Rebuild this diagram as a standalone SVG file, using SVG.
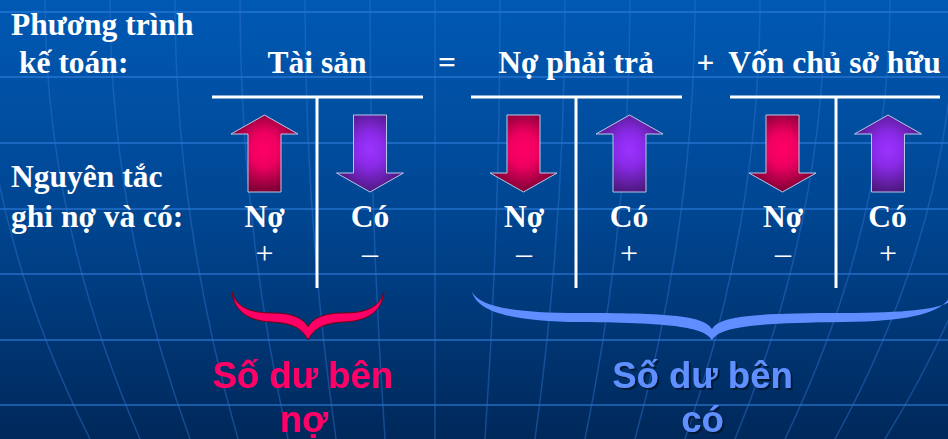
<svg xmlns="http://www.w3.org/2000/svg" xmlns:xlink="http://www.w3.org/1999/xlink" width="948" height="439" viewBox="0 0 948 439">
  <defs>
    <linearGradient id="bg" x1="0" y1="0" x2="0" y2="1">
      <stop offset="0" stop-color="#0059b4"/>
      <stop offset="0.5" stop-color="#004590"/>
      <stop offset="1" stop-color="#00285a"/>
    </linearGradient>
    <radialGradient id="redG" cx="0.5" cy="0.45" r="0.62">
      <stop offset="0" stop-color="#ff0066"/>
      <stop offset="0.35" stop-color="#ee0060"/>
      <stop offset="1" stop-color="#66002a"/>
    </radialGradient>
    <radialGradient id="purG" cx="0.5" cy="0.45" r="0.62">
      <stop offset="0" stop-color="#9c33ff"/>
      <stop offset="0.35" stop-color="#8a2ae8"/>
      <stop offset="1" stop-color="#42156a"/>
    </radialGradient>
    <linearGradient id="vfade" x1="0" y1="0" x2="0" y2="1">
      <stop offset="0" stop-color="#2f74d0" stop-opacity="0.15"/>
      <stop offset="0.5" stop-color="#2f74d0" stop-opacity="0.35"/>
      <stop offset="1" stop-color="#2f74d0" stop-opacity="0.55"/>
    </linearGradient>
    <path id="up" d="M0,115 L33.5,134 L16.5,134 L16.5,192 L-16.5,192 L-16.5,134 L-33.5,134 Z"/>
    <path id="down" d="M-16.5,115 L16.5,115 L16.5,173 L33.5,173 L0,192 L-33.5,173 L-16.5,173 Z"/>
    <filter id="shadow" x="-10%" y="-10%" width="130%" height="140%">
      <feDropShadow dx="2" dy="2" stdDeviation="0.6" flood-color="#001530" flood-opacity="0.9"/>
    </filter>
  </defs>
  <style>
    .t { font-family: "Liberation Serif", "Times New Roman", serif; font-weight: bold; font-size: 31.5px; fill: #ffffff; }
    .sign { font-family: "Liberation Serif", "Times New Roman", serif; font-weight: normal; font-size: 32px; fill: #ffffff; text-anchor: middle; }
    .mid { text-anchor: middle; }
    .rule { stroke: #ffffff; stroke-width: 3; fill: none; }
    .arrow { stroke: #b8c8e8; stroke-width: 1; }
    .hgrid { stroke: #2f7fe0; stroke-opacity: 0.55; stroke-width: 2; fill: none; }
    .vgrid { stroke: #2f74d0; stroke-opacity: 0.45; stroke-width: 1.5; fill: none; }
    .big { font-family: "Liberation Sans", Arial, sans-serif; font-weight: bold; font-size: 36.5px; text-anchor: middle; }
  </style>

  <!-- background -->
  <g id="background">
    <rect x="0" y="0" width="948" height="439" fill="url(#bg)"/>
    <g class="hgrid">
      <line x1="0" y1="12" x2="948" y2="12"/>
      <line x1="0" y1="77" x2="948" y2="77"/>
      <line x1="0" y1="143" x2="948" y2="143"/>
      <line x1="0" y1="209" x2="948" y2="209"/>
      <line x1="0" y1="274" x2="948" y2="274"/>
      <line x1="0" y1="340" x2="948" y2="340"/>
      <line x1="0" y1="405" x2="948" y2="405"/>
    </g>
    <g class="vgrid">
      <path d="M-20,0 Q-20,220 90,439"/>
      <path d="M45,0 Q45,220 140,439"/>
      <path d="M110,0 Q110,220 190,439"/>
      <path d="M175,0 Q175,220 238,439"/>
      <path d="M240,0 Q240,220 288,439"/>
      <path d="M305,0 Q305,220 336,439"/>
      <path d="M370,0 Q370,220 385,439"/>
      <path d="M435,0 Q435,220 435,439"/>
      <path d="M500,0 Q500,220 485,439"/>
      <path d="M565,0 Q565,220 535,439"/>
      <path d="M630,0 Q630,220 585,439"/>
      <path d="M695,0 Q695,220 635,439"/>
      <path d="M760,0 Q760,220 685,439"/>
      <path d="M825,0 Q825,220 735,439"/>
      <path d="M890,0 Q890,220 785,439"/>
      <path d="M955,0 Q955,220 835,439"/>
      <path d="M1020,0 Q1020,220 885,439"/>
    </g>
  </g>

  <!-- header texts -->
  <g id="equation">
    <text class="t" x="11" y="35">Phương trình</text>
    <text class="t" x="19" y="73">kế toán:</text>
    <text class="t mid" x="317" y="73">Tài sản</text>
    <text class="t mid" x="447" y="73">=</text>
    <text class="t mid" x="576" y="73">Nợ phải trả</text>
    <text class="t mid" x="705.5" y="73">+</text>
    <text class="t mid" x="834.5" y="73">Vốn chủ sở hữu</text>
  </g>

  <g id="rule-label">
    <text class="t" x="11" y="187">Nguyên tắc</text>
    <text class="t" x="11" y="227">ghi nợ và có:</text>
  </g>

  <!-- T-account: Tài sản -->
  <g id="account-assets">
    <line class="rule" x1="212" y1="97" x2="423" y2="97"/>
    <line class="rule" x1="317" y1="97" x2="317" y2="288"/>
    <use href="#up" xlink:href="#up" x="264.5" class="arrow" fill="url(#redG)"/>
    <use href="#down" xlink:href="#down" x="370" class="arrow" fill="url(#purG)"/>
    <text class="t mid" x="264.5" y="227">Nợ</text>
    <text class="t mid" x="370" y="227">Có</text>
    <text class="sign" x="264.5" y="264">+</text>
    <text class="sign" x="370" y="264">–</text>
  </g>

  <!-- T-account: Nợ phải trả -->
  <g id="account-liabilities">
    <line class="rule" x1="471" y1="97" x2="682" y2="97"/>
    <line class="rule" x1="576" y1="97" x2="576" y2="288"/>
    <use href="#down" xlink:href="#down" x="523.5" class="arrow" fill="url(#redG)"/>
    <use href="#up" xlink:href="#up" x="629.5" class="arrow" fill="url(#purG)"/>
    <text class="t mid" x="524" y="227">Nợ</text>
    <text class="t mid" x="629" y="227">Có</text>
    <text class="sign" x="524" y="264">–</text>
    <text class="sign" x="629" y="264">+</text>
  </g>

  <!-- T-account: Vốn chủ sở hữu -->
  <g id="account-equity">
    <line class="rule" x1="730" y1="97" x2="940" y2="97"/>
    <line class="rule" x1="836" y1="97" x2="836" y2="288"/>
    <use href="#down" xlink:href="#down" x="782.5" class="arrow" fill="url(#redG)"/>
    <use href="#up" xlink:href="#up" x="888" class="arrow" fill="url(#purG)"/>
    <text class="t mid" x="783" y="227">Nợ</text>
    <text class="t mid" x="887.5" y="227">Có</text>
    <text class="sign" x="783" y="264">–</text>
    <text class="sign" x="888" y="264">+</text>
  </g>

  <!-- braces -->
  <g id="connectors">
    <path id="brace-debit" fill="#ff0066" stroke="#7a0010" stroke-width="1"
      d="M232,292 C234,311 248,321 272,322 C292,323 302,328 308,340 C314,328 324,323 344,322 C368,321 382,311 384,292 C380,306 368,313 344,313 C324,313 313,318 308,327 C303,318 292,313 272,313 C248,313 236,306 232,292 Z"/>
    <path id="brace-credit" fill="#608dff"
      d="M472,292 C478,312 510,321 580,322 C680,323 704,328 712,340 C720,328 744,323 844,322 C914,321 946,312 952,292 L952,300 C944,308 914,313 844,313 C744,313 720,317 712,329 C704,317 680,313 580,313 C510,313 480,306 472,292 Z"/>
  </g>

  <g id="label-debit">
    <text class="big" x="302.5" y="388" fill="#ff0066">Số dư bên</text>
    <text class="big" x="303.5" y="432" fill="#ff0066">nợ</text>
  </g>
  <g id="label-credit" filter="url(#shadow)">
    <text class="big" x="702.5" y="388" fill="#6090ff">Số dư bên</text>
    <text class="big" x="702.5" y="432" fill="#6090ff">có</text>
  </g>
</svg>
